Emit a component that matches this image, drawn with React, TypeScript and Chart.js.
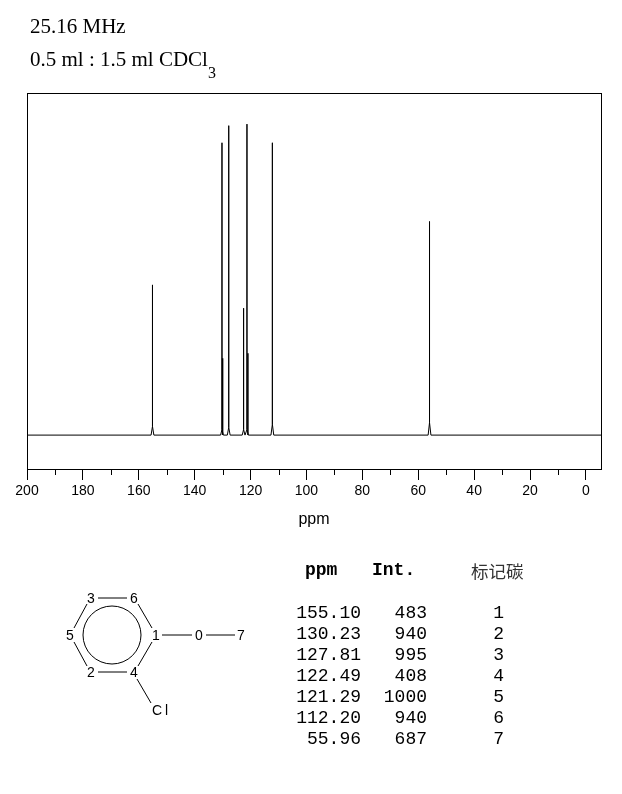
import React, { useEffect, useRef } from "react";
import { Chart, registerables } from "chart.js";

Chart.register(...registerables);

const ppmValues = ["155.10", "130.23", "127.81", "122.49", "121.29", "112.20", "55.96"];
const intValues = [483, 940, 995, 408, 1000, 940, 687];
const carbonLabels = ["1", "2", "3", "4", "5", "6", "7"];
const footHeights = [28, 18, 25, 18, 18, 35, 40];
const shoulderPpm = [130.0, 120.95];
const shoulderInt = [247, 263];
const tickValues = [200, 180, 160, 140, 120, 100, 80, 60, 40, 20, 0];
const minorTickValues = [190, 170, 150, 130, 110, 90, 70, 50, 30, 10];

const trace: { x: number; y: number }[] = [{ x: 200, y: 0 }];
ppmValues.forEach((p, i) => {
  const v = parseFloat(p);
  trace.push({ x: v + 0.5, y: 0 }, { x: v, y: footHeights[i] }, { x: v, y: intValues[i] }, { x: v, y: footHeights[i] }, { x: v - 0.5, y: 0 });
});
trace.push({ x: -5.4, y: 0 });

const shoulders = shoulderPpm.flatMap((p, i) => [
  { x: p, y: 0 },
  { x: p, y: shoulderInt[i] },
  { x: NaN, y: NaN },
]);

const framePlugin = {
  id: "frame",
  afterDraw(chart: any) {
    const { ctx, chartArea: a, scales } = chart;
    ctx.save();
    ctx.strokeStyle = "#000";
    ctx.lineWidth = 1;
    ctx.strokeRect(a.left + 0.5, a.top + 0.5, a.right - a.left, a.bottom - a.top);
    ctx.beginPath();
    minorTickValues.forEach((v) => {
      const x = Math.round(scales.x.getPixelForValue(v)) + 0.5;
      ctx.moveTo(x, a.bottom);
      ctx.lineTo(x, a.bottom + 6);
    });
    ctx.stroke();
    ctx.restore();
  },
};

const abs = (left: number, top: number, extra: React.CSSProperties = {}): React.CSSProperties => ({
  position: "absolute",
  left,
  top,
  whiteSpace: "pre",
  color: "#000",
  ...extra,
});

const mono: React.CSSProperties = { fontFamily: "'Liberation Mono', monospace", fontSize: 18, lineHeight: "21px" };
const serif: React.CSSProperties = { fontFamily: "'Liberation Serif', serif", fontSize: 21, lineHeight: "24px" };

const atoms: [string, number, number][] = [
  ["3", 91, 598],
  ["6", 134, 598],
  ["1", 156, 635],
  ["0", 199, 635],
  ["7", 241, 635],
  ["5", 70, 635],
  ["2", 91, 672],
  ["4", 134, 672],
];
const bonds: [number, number, number, number][] = [
  [98, 598, 127, 598],
  [138, 604, 152, 628],
  [152, 642, 138, 666],
  [127, 672, 98, 672],
  [87, 666, 74, 642],
  [74, 628, 87, 604],
  [162, 635, 192, 635],
  [206, 635, 235, 635],
  [137, 679, 151, 703],
];

export default function App() {
  const ref = useRef<HTMLCanvasElement>(null);
  useEffect(() => {
    document.body.style.margin = "0";
    const chart = new Chart(ref.current!, {
      type: "line",
      data: {
        datasets: [
          { data: trace, borderColor: "#000", borderWidth: 1, pointRadius: 0, tension: 0, spanGaps: false },
          { data: shoulders, borderColor: "#000", borderWidth: 1.5, pointRadius: 0, tension: 0, spanGaps: false },
        ],
      },
      plugins: [framePlugin],
      options: {
        responsive: false,
        animation: false,
        devicePixelRatio: 1,
        layout: { padding: { left: 27, right: 21, top: 93, bottom: 265 } },
        plugins: { legend: { display: false }, tooltip: { enabled: false } },
        scales: {
          x: {
            type: "linear",
            reverse: true,
            min: -5.4,
            max: 200,
            afterBuildTicks(scale: any) {
              scale.ticks = tickValues.map((value) => ({ value }));
            },
            afterFit(scale: any) {
              scale.height = 60;
            },
            grid: { drawOnChartArea: false, drawTicks: true, tickLength: 11, color: "#000", lineWidth: 1 },
            border: { display: false },
            ticks: {
              autoSkip: false,
              maxRotation: 0,
              color: "#000",
              padding: 3,
              font: { family: "'Liberation Sans', sans-serif", size: 14 },
            },
            title: {
              display: true,
              text: "ppm",
              color: "#000",
              padding: { top: 5, bottom: 0 },
              font: { family: "'Liberation Sans', sans-serif", size: 16 },
            },
          },
          y: { display: false, min: -109, max: 1100 },
        },
      } as any,
    });
    return () => chart.destroy();
  }, []);

  return (
    <div style={{ position: "relative", width: 622, height: 794, background: "#fff", overflow: "hidden" }}>
      <canvas ref={ref} width={622} height={794} style={{ position: "absolute", left: 0, top: 0, display: "block" }} />
      <div style={abs(30, 14, serif)}>25.16 MHz</div>
      <div style={abs(30, 47, serif)}>
        0.5 ml : 1.5 ml CDCl<span style={{ position: "relative", top: 12, fontSize: 16 }}>3</span>
      </div>

      <svg width={622} height={794} style={{ position: "absolute", left: 0, top: 0 }}>
        <circle cx={112} cy={635} r={29} fill="none" stroke="#000" strokeWidth={1} />
        {bonds.map((b, i) => (
          <line key={i} x1={b[0]} y1={b[1]} x2={b[2]} y2={b[3]} stroke="#000" strokeWidth={1} />
        ))}
        {atoms.map(([t, x, y]) => (
          <text key={t} x={x} y={y + 5} textAnchor="middle" fontFamily="'Liberation Sans', sans-serif" fontSize={14}>
            {t}
          </text>
        ))}
        <text x={152} y={715} fontFamily="'Liberation Sans', sans-serif" fontSize={14} letterSpacing={3}>
          Cl
        </text>
      </svg>

      <div style={abs(305, 560, { ...mono, fontWeight: "bold" })}>ppm</div>
      <div style={abs(372, 560, { ...mono, fontWeight: "bold" })}>Int.</div>
      <div style={abs(471, 560, { fontFamily: "'Noto Sans CJK SC', sans-serif", fontSize: 17.5, lineHeight: "21px", color: "#333" })}>标记碳</div>
      {ppmValues.map((p, i) => (
        <React.Fragment key={p}>
          <div style={abs(261, 603 + i * 21, { ...mono, width: 100, textAlign: "right" })}>{p}</div>
          <div style={abs(327, 603 + i * 21, { ...mono, width: 100, textAlign: "right" })}>{intValues[i]}</div>
          <div style={abs(404, 603 + i * 21, { ...mono, width: 100, textAlign: "right" })}>{carbonLabels[i]}</div>
        </React.Fragment>
      ))}
    </div>
  );
}
